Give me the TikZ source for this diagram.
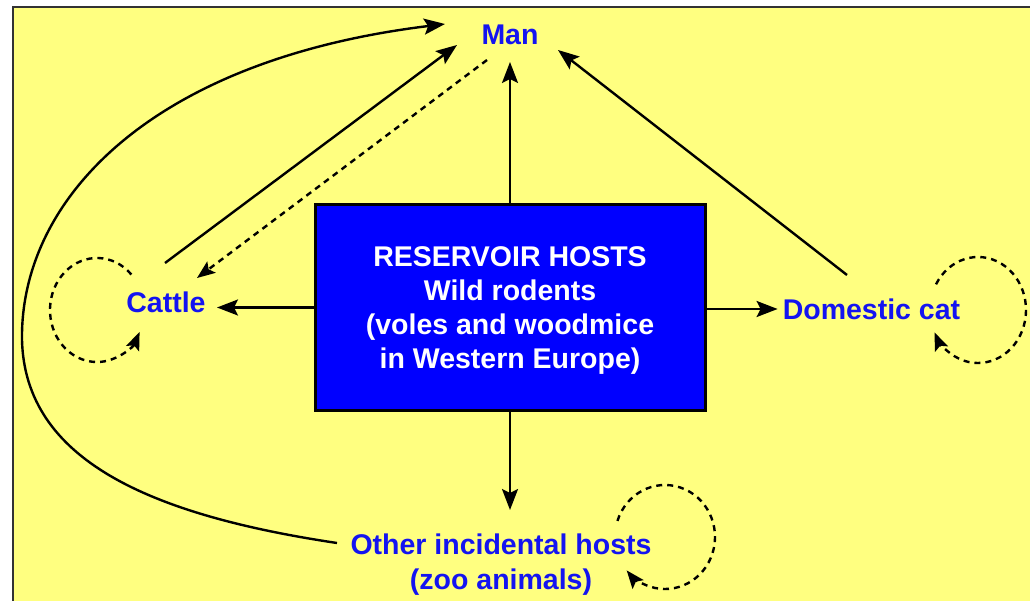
\documentclass[tikz,border=0pt]{standalone}
\usepackage{fontspec}
\setmainfont{Liberation Sans}
\usetikzlibrary{arrows.meta}
\definecolor{bgyellow}{RGB}{255,255,128}
\definecolor{labelblue}{RGB}{20,20,240}
\definecolor{boxblue}{RGB}{0,0,255}
\tikzset{
  lbl/.style={font=\fontsize{28.5}{35}\selectfont\bfseries, text=labelblue, inner sep=0pt, align=center},
  arr/.style={line width=2.4pt, -{Stealth[length=21pt,width=16pt,inset=4pt]}},
  dasharr/.style={line width=2.4pt, dash pattern=on 6pt off 5pt, -{Stealth[length=18pt,width=14pt,inset=3.5pt]}},
  hostbox/.style={draw=black, line width=3pt, fill=boxblue, minimum width=390pt, minimum height=205pt, inner sep=0pt},
  boxtext/.style={text=white, font=\fontsize{28.5}{34.3}\selectfont\bfseries, align=center, inner sep=0pt}
}
\begin{document}
\begin{tikzpicture}[x=1pt,y=-1pt]
\useasboundingbox (0,0) rectangle (1030,601);
\fill[white] (0,0) rectangle (1030,601);
\fill[bgyellow] (13,7) rectangle (1030,601);
\draw[line width=2pt, black!80] (13,601) -- (13,7) -- (1030,7);

\node[hostbox] (box) at (510,307.5) {};
\node[boxtext] (boxlabel) at (510,310.5) {RESERVOIR HOSTS\\Wild rodents\\(voles and woodmice\\in Western Europe)};
\node[lbl] (man) at (510,35) {Man};
\node[lbl] (cattle) at (166,302) {Cattle};
\node[lbl] (domcat) at (871.5,309) {Domestic cat};
\node[lbl] (other) at (501,565) {Other incidental hosts\\(zoo animals)};

\coordinate (cattleloop) at (97,310);
\coordinate (catloop) at (978,310);
\coordinate (otherloop) at (665,537);
\coordinate (bend) at (22,340);

% from the reservoir
\draw[arr] (box.north) -- ([shift={(0,27)}]man.center);
\draw[arr] (box.west) -- ([shift={(51,5.5)}]cattle.center);
\draw[arr] (box.east |- domcat) -- ([xshift=-5pt]domcat.west);
\draw[arr] (box.south) -- ([shift={(9,-55)}]other.center);

% to man
\draw[arr] ([shift={(-1,-39)}]cattle.center) -- ([shift={(-53,10)}]man.center);
\draw[dasharr] ([shift={(-23,25)}]man.center) -- ([shift={(31,-24)}]cattle.center);
\draw[arr] ([shift={(-24.5,-34)}]domcat.center) -- ([shift={(48,15)}]man.center);
\draw[arr] ([shift={(-164,-22)}]other.center) .. controls (150,515) and (25,460) .. (bend)
  .. controls (20,200) and (150,60) .. ([shift={(-65,-11)}]man.center);

% self loops
\draw[dasharr] ([shift={(-43:47 and 52)}]cattleloop) arc[start angle=-43, end angle=-335, x radius=47, y radius=52];
\draw[dasharr] ([shift={(209:48 and 53)}]catloop) arc[start angle=209, end angle=515, x radius=48, y radius=53];
\draw[dasharr] ([shift={(198:50 and 52)}]otherloop) arc[start angle=198, end angle=500, x radius=50, y radius=52];
\end{tikzpicture}
\end{document}
